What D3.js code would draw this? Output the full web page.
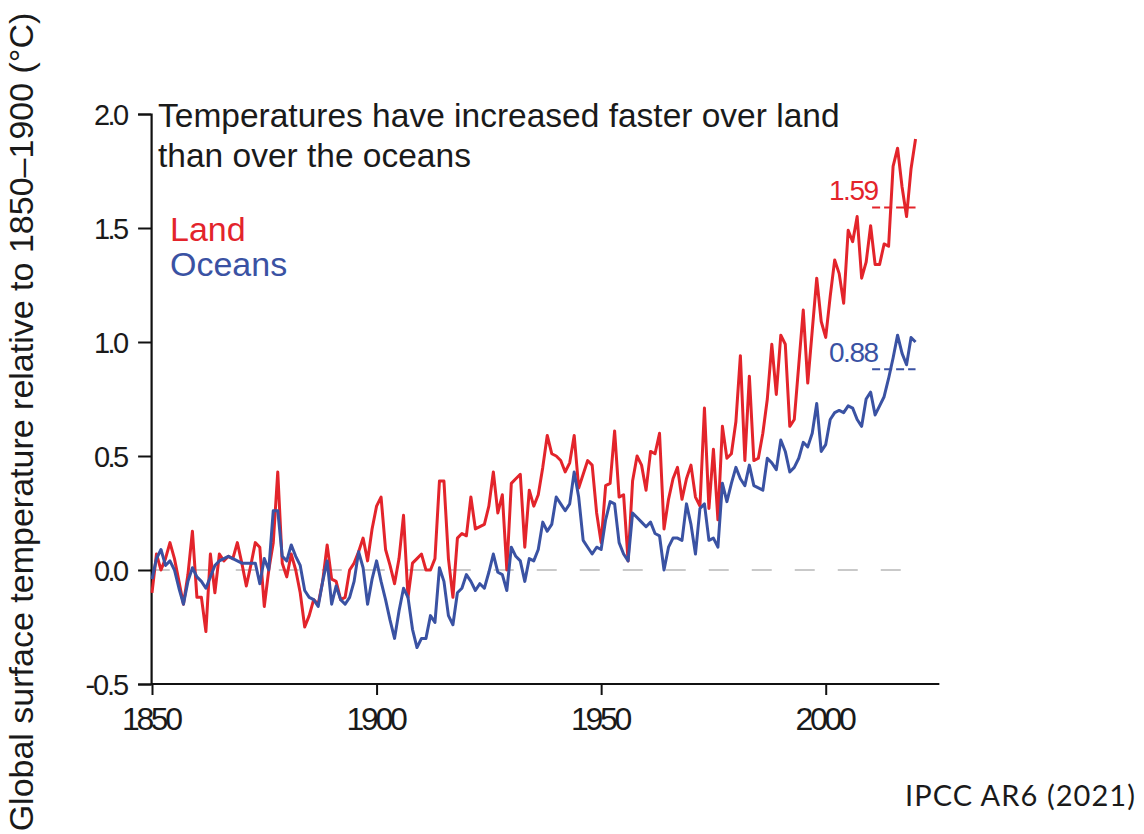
<!DOCTYPE html>
<html>
<head>
<meta charset="utf-8">
<script src="https://cdn.jsdelivr.net/npm/d3@7"></script>
<style>
  body { margin: 0; background: #fff; }
  svg { display: block; }
  text { font-family: "Liberation Sans", Arial, sans-serif; fill: #1a1a1a; }
</style>
</head>
<body>
<svg id="chart" width="1144" height="834"></svg>
<script>
// Annual temperature anomalies relative to 1850–1900 (°C), 1850–2020
const firstYear = 1850;

const landAnomaly = [
  -0.10, 0.07, 0.00, 0.05, 0.12, 0.05, -0.05, -0.15, -0.02, 0.17,
  -0.12, -0.12, -0.27, 0.07, -0.10, 0.07, 0.04, 0.06, 0.05, 0.12,
  0.03, -0.07, 0.02, 0.12, 0.10, -0.16, 0.00, 0.12, 0.43, 0.03,
  -0.03, 0.07, 0.00, -0.10, -0.25, -0.20, -0.13, -0.15, -0.05, 0.11,
  -0.04, -0.05, -0.13, -0.12, 0.00, 0.03, 0.08, 0.14, 0.04, 0.18,
  0.28, 0.32, 0.09, 0.02, -0.06, 0.05, 0.24, -0.12, 0.03, 0.05,
  0.07, 0.00, 0.00, 0.05, 0.39, 0.39, 0.05, -0.12, 0.14, 0.16,
  0.15, 0.32, 0.18, 0.19, 0.20, 0.28, 0.43, 0.25, 0.33, 0.00,
  0.38, 0.40, 0.42, 0.10, 0.35, 0.28, 0.33, 0.45, 0.59, 0.51,
  0.50, 0.48, 0.43, 0.47, 0.59, 0.36, 0.42, 0.48, 0.46, 0.25,
  0.12, 0.37, 0.38, 0.61, 0.32, 0.33, 0.04, 0.39, 0.50, 0.46,
  0.35, 0.52, 0.51, 0.60, 0.18, 0.31, 0.40, 0.45, 0.31, 0.40,
  0.46, 0.32, 0.28, 0.71, 0.27, 0.53, 0.22, 0.63, 0.49, 0.51,
  0.65, 0.94, 0.48, 0.85, 0.48, 0.49, 0.60, 0.75, 0.99, 0.77,
  1.03, 0.99, 0.63, 0.66, 0.90, 1.14, 0.82, 1.05, 1.28, 1.09,
  1.02, 1.20, 1.36, 1.30, 1.17, 1.49, 1.44, 1.55, 1.28, 1.35,
  1.51, 1.34, 1.34, 1.43, 1.42, 1.77, 1.85, 1.68, 1.55, 1.76, 1.89
];

const oceanAnomaly = [
  -0.04, 0.05, 0.09, 0.02, 0.04, 0.00, -0.08, -0.15, -0.05, 0.01,
  -0.03, -0.05, -0.08, -0.03, 0.02, 0.04, 0.05, 0.06, 0.05, 0.04,
  0.03, 0.03, 0.03, 0.03, -0.06, 0.05, 0.00, 0.26, 0.26, 0.06,
  0.04, 0.11, 0.06, 0.02, -0.09, -0.12, -0.13, -0.16, -0.05, 0.04,
  -0.15, -0.07, -0.13, -0.15, -0.12, -0.05, 0.08, 0.01, -0.15, -0.04,
  0.04, -0.05, -0.13, -0.22, -0.30, -0.18, -0.08, -0.12, -0.26, -0.34,
  -0.30, -0.30, -0.20, -0.23, 0.01, -0.05, -0.20, -0.24, -0.10, -0.08,
  -0.02, -0.05, -0.09, -0.06, -0.08, -0.01, 0.07, -0.01, -0.02, -0.09,
  0.10, 0.06, 0.04, -0.05, 0.05, 0.04, 0.09, 0.21, 0.17, 0.20,
  0.32, 0.29, 0.26, 0.29, 0.43, 0.32, 0.13, 0.10, 0.07, 0.10,
  0.09, 0.22, 0.30, 0.29, 0.12, 0.07, 0.04, 0.25, 0.23, 0.21,
  0.19, 0.21, 0.16, 0.15, 0.00, 0.10, 0.14, 0.14, 0.13, 0.29,
  0.20, 0.07, 0.27, 0.29, 0.13, 0.14, 0.10, 0.38, 0.30, 0.38,
  0.45, 0.40, 0.37, 0.46, 0.37, 0.36, 0.35, 0.49, 0.47, 0.44,
  0.57, 0.52, 0.43, 0.45, 0.49, 0.56, 0.54, 0.60, 0.73, 0.52,
  0.55, 0.66, 0.69, 0.70, 0.69, 0.72, 0.71, 0.66, 0.63, 0.75,
  0.78, 0.68, 0.72, 0.76, 0.84, 0.93, 1.03, 0.95, 0.90, 1.02, 1.00
];

// Decadal means for 2011–2020
const recentPeriod = [2011, 2020];
const recentLand = 1.59;
const recentOcean = 0.88;

const xTickValues = [1850, 1900, 1950, 2000];
const yTickValues = [-0.5, 0.0, 0.5, 1.0, 1.5, 2.0];

const titleLines = ["Temperatures have increased faster over land", "than over the oceans"];
const yAxisTitle = "Global surface temperature relative to 1850\u20131900 (\u00B0C)";
const sourceNote = "IPCC AR6 (2021)";

const landColor = "#e3242b";
const oceanColor = "#3a52a3";

const svg = d3.select("#chart");

const x = d3.scaleLinear().domain([1850, 2025]).range([152, 938]);
const y = d3.scaleLinear().domain([-0.5, 2.0]).range([684, 114]);

// Tighten letter spacing only (glyph shapes unchanged)
function tighten(sel, factor) {
  sel.each(function () {
    const w = this.getComputedTextLength();
    d3.select(this).attr("textLength", w * factor).attr("lengthAdjust", "spacing");
  });
}

// zero reference line
svg.append("line")
  .attr("x1", x(1849.5)).attr("x2", x(2018.5))
  .attr("y1", y(0)).attr("y2", y(0))
  .attr("stroke", "#b8b8b8").attr("stroke-width", 1.4)
  .attr("stroke-dasharray", "20,23");

// axes
const axisX = x(1849.8);
const xAxis = svg.append("g")
  .attr("transform", `translate(0,${y(-0.5)})`)
  .call(d3.axisBottom(x).tickValues(xTickValues).tickFormat(d3.format("d"))
    .tickSizeOuter(0).tickSize(11).tickPadding(12));
xAxis.select(".domain").attr("d", `M${axisX},0H${x(2025.3)}`);
const yAxis = svg.append("g")
  .attr("transform", `translate(${axisX},0)`)
  .call(d3.axisLeft(y).tickValues(yTickValues)
    .tickFormat(d => d3.format(".1f")(d).replace("\u2212", "-"))
    .tickSizeOuter(0).tickSize(13).tickPadding(9));
[xAxis, yAxis].forEach(g => {
  g.select(".domain").attr("stroke", "#111").attr("stroke-width", 2.2);
  g.selectAll(".tick line").attr("stroke", "#111").attr("stroke-width", 2);
  g.selectAll(".tick text").attr("fill", "#1a1a1a")
    .attr("font-family", "'Liberation Sans', Arial, sans-serif");
});
xAxis.selectAll(".tick text").attr("font-size", 32).attr("dy", "0.73em");
yAxis.selectAll(".tick text").attr("font-size", 29).attr("dy", "0.36em");
tighten(xAxis.selectAll(".tick text"), 0.86);
tighten(yAxis.selectAll(".tick text"), 0.87);

// series
const line = d3.line()
  .x((d, i) => x(firstYear + i))
  .y(d => y(d))
  .curve(d3.curveLinear);

svg.append("path").datum(landAnomaly)
  .attr("d", line).attr("fill", "none")
  .attr("stroke", landColor).attr("stroke-width", 3).attr("stroke-linejoin", "round");
svg.append("path").datum(oceanAnomaly)
  .attr("d", line).attr("fill", "none")
  .attr("stroke", oceanColor).attr("stroke-width", 3).attr("stroke-linejoin", "round");

// recent-decade means
const recent = [
  { v: recentLand, color: landColor, label: "1.59" },
  { v: recentOcean, color: oceanColor, label: "0.88" }
];
recent.forEach(r => {
  svg.append("line")
    .attr("x1", x(recentPeriod[0]) - 3).attr("x2", x(recentPeriod[1]))
    .attr("y1", y(r.v)).attr("y2", y(r.v))
    .attr("stroke", r.color).attr("stroke-width", 2).attr("stroke-dasharray", "8,4");
  const t = svg.append("text")
    .attr("x", x(recentPeriod[0]) + 4).attr("y", y(r.v) - 7)
    .attr("text-anchor", "end").attr("font-size", 28)
    .style("fill", r.color).text(r.label);
  tighten(t, 0.92);
});

// title
titleLines.forEach((s, i) => {
  svg.append("text").attr("x", 158).attr("y", 127 + i * 40)
    .attr("font-size", 33.5).text(s);
});

// legend
svg.append("text").attr("x", 170).attr("y", 241).attr("font-size", 34)
  .style("fill", landColor).text("Land");
svg.append("text").attr("x", 170).attr("y", 276).attr("font-size", 34)
  .style("fill", oceanColor).text("Oceans");

// y axis title
svg.append("text")
  .attr("transform", "translate(33,422) rotate(-90)")
  .attr("text-anchor", "middle").attr("font-size", 34)
  .text(yAxisTitle);

// source note
const note = svg.append("text")
  .attr("x", 1135).attr("y", 806).attr("text-anchor", "end")
  .attr("font-size", 29).style("font-family", "Lato, 'Open Sans', sans-serif")
  .text(sourceNote);
note.attr("textLength", 230).attr("lengthAdjust", "spacing");
</script>
</body>
</html>
